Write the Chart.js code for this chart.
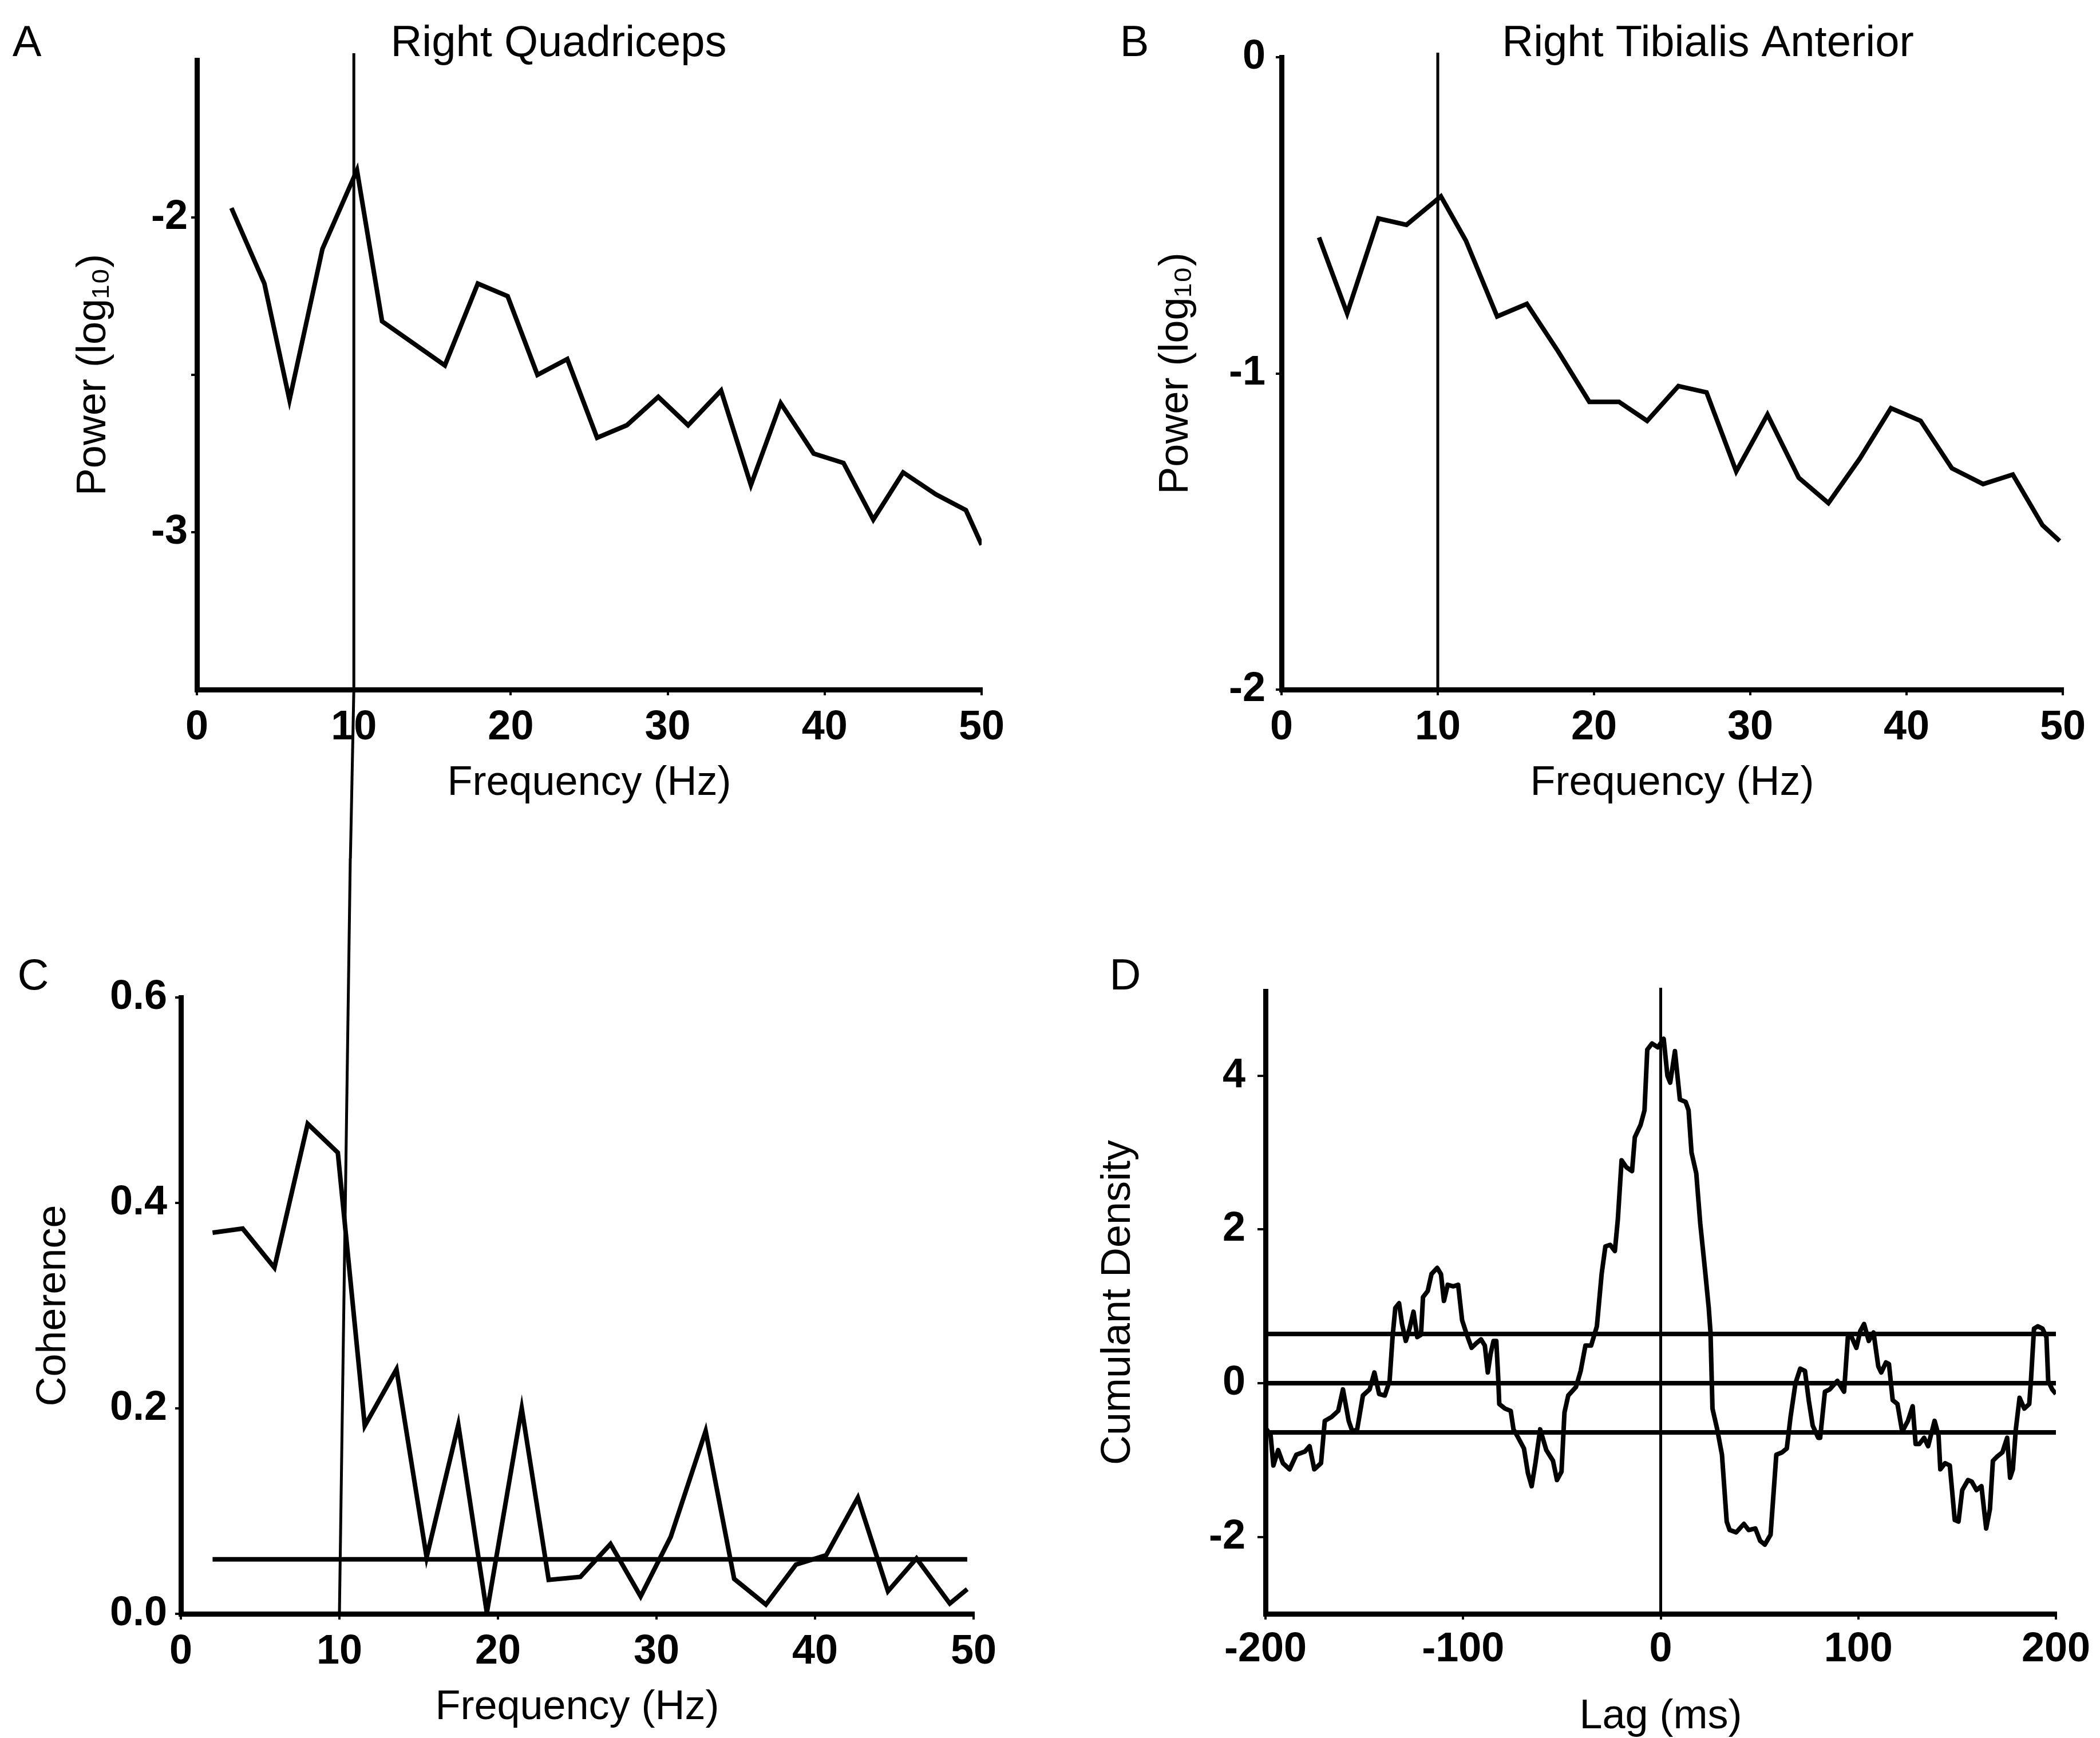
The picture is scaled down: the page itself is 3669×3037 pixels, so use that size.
<!DOCTYPE html>
<html>
<head>
<meta charset="utf-8">
<title>Power spectra, coherence and cumulant density</title>
<script src="https://cdn.jsdelivr.net/npm/chart.js@4.4.1/dist/chart.umd.min.js"></script>
<style>
  html, body { margin: 0; padding: 0; background: #fff; }
  #page { position: relative; width: 3669px; height: 3037px; background: #fff; overflow: hidden; }
  #page canvas { position: absolute; }
</style>
</head>
<body>
<div id="page">
  <canvas id="panelA" width="1834" height="1500" style="left:0;top:0"></canvas>
  <canvas id="panelB" width="1835" height="1500" style="left:1834px;top:0"></canvas>
  <canvas id="panelC" width="1834" height="1537" style="left:0;top:1500px"></canvas>
  <canvas id="panelD" width="1835" height="1537" style="left:1834px;top:1500px"></canvas>
</div>
<script>
// ---- data ----

// A: right quadriceps power spectrum
const aFreq = [2.2, 4.3, 5.9, 8.0, 10.2, 11.8, 13.8, 15.8, 17.9, 19.8, 21.7, 23.6, 25.5,
               27.4, 29.4, 31.3, 33.4, 35.3, 37.2, 39.3, 41.2, 43.1, 45.0, 47.1, 49.0, 50.0];
const aPower = [-1.97, -2.21, -2.58, -2.10, -1.85, -2.33, -2.40, -2.47, -2.21, -2.25, -2.50, -2.45, -2.70,
                -2.66, -2.57, -2.66, -2.55, -2.85, -2.59, -2.75, -2.78, -2.96, -2.81, -2.88, -2.93, -3.04];
const aYTicks = [-3, -2.5, -2];
const aYLabels = ["-3", "", "-2"];

// B: right tibialis anterior power spectrum
const bFreq = [2.4, 4.2, 6.2, 8.0, 10.2, 11.8, 13.8, 15.7, 17.7, 19.7, 21.6, 23.4, 25.4,
               27.2, 29.1, 31.1, 33.1, 35.0, 37.0, 39.0, 40.9, 42.9, 44.9, 46.8, 48.7, 49.8];
const bPower = [-0.57, -0.81, -0.51, -0.53, -0.44, -0.58, -0.82, -0.78, -0.93, -1.09, -1.09, -1.15, -1.04,
                -1.06, -1.31, -1.13, -1.33, -1.41, -1.27, -1.11, -1.15, -1.30, -1.35, -1.32, -1.48, -1.53];
const bYTicks = [-2, -1, 0];
const bYLabels = ["-2", "-1", "0"];

// C: coherence
const cFreq = [2.0, 3.9, 5.9, 8.0, 9.9, 11.6, 13.6, 15.5, 17.5, 19.3, 21.5, 23.2, 25.2,
               27.1, 29.0, 30.9, 33.1, 34.9, 36.9, 38.8, 40.7, 42.7, 44.6, 46.4, 48.5, 49.6];
const cCoh = [0.371, 0.375, 0.337, 0.477, 0.449, 0.183, 0.238, 0.055, 0.184, 0.001, 0.200, 0.033, 0.036,
              0.068, 0.017, 0.075, 0.178, 0.034, 0.009, 0.048, 0.057, 0.113, 0.022, 0.054, 0.010, 0.024];
const cLimit = 0.053;
const cLimitFreq = [2.0, 49.6];
const cYTicks = [0, 0.2, 0.4, 0.6];
const cYLabels = ["0.0", "0.2", "0.4", "0.6"];

// D: cumulant density
const dLag = [-199.4, -197.4, -196.0, -193.6, -191.2, -187.8, -184.4, -180.1, -177.7, -175.3, -171.9, -170.0,
  -166.6, -163.2, -160.8, -157.9, -156.0, -153.6, -150.7, -147.3, -144.9, -142.5, -139.6, -137.2,
  -135.7, -134.3, -132.4, -130.9, -129.0, -127.1, -125.1, -123.2, -121.3, -120.3, -117.9, -116.0,
  -113.1, -111.2, -109.7, -107.8, -104.9, -102.5, -100.5, -98.1, -95.7, -93.3, -90.9, -89.0,
  -87.5, -86.1, -84.6, -83.2, -82.2, -81.7, -78.8, -75.9, -74.5, -72.1, -69.2, -67.2,
  -65.3, -63.4, -61.0, -57.9, -54.5, -52.5, -50.2, -48.7, -46.8, -42.9, -40.5, -38.1,
  -35.2, -32.3, -29.9, -28.0, -25.6, -23.2, -21.7, -19.8, -17.4, -14.5, -13.1, -10.2,
  -8.2, -6.8, -4.4, -1.4, 1.5, 3.4, 4.8, 7.2, 9.7, 12.6, 14.1, 15.6,
  18.0, 20.0, 22.4, 24.3, 25.2, 26.2, 28.6, 31.0, 33.4, 34.9, 38.2, 42.1,
  44.5, 47.9, 50.3, 52.7, 55.6, 58.5, 61.4, 63.8, 65.7, 68.2, 70.6, 73.0,
  74.9, 76.9, 79.7, 80.7, 83.1, 85.5, 89.4, 92.8, 94.7, 96.1, 99.0, 101.0,
  102.9, 105.3, 107.7, 110.1, 111.6, 114.0, 115.5, 117.4, 119.8, 122.2, 125.1, 127.5,
  129.0, 130.9, 133.3, 135.3, 138.6, 140.6, 141.5, 143.9, 146.3, 148.8, 150.7, 152.6,
  155.5, 157.4, 159.8, 162.3, 164.7, 166.6, 168.1, 170.0, 172.9, 175.3, 176.8, 178.2,
  179.7, 181.6, 184.0, 186.5, 187.4, 188.9, 190.8, 193.2, 195.2, 196.1, 198.1, 200.0];
const dCum = [-0.60, -0.68, -1.07, -0.87, -1.04, -1.12, -0.93, -0.89, -0.82, -1.12, -1.04, -0.49,
  -0.44, -0.36, -0.08, -0.49, -0.63, -0.60, -0.16, -0.08, 0.14, -0.14, -0.16, 0.03,
  0.60, 0.98, 1.04, 0.77, 0.55, 0.71, 0.93, 0.60, 0.63, 1.12, 1.20, 1.42,
  1.50, 1.42, 1.07, 1.28, 1.26, 1.28, 0.82, 0.63, 0.46, 0.52, 0.57, 0.49,
  0.14, 0.38, 0.55, 0.55, 0.05, -0.27, -0.33, -0.36, -0.60, -0.71, -0.85, -1.17,
  -1.34, -1.04, -0.60, -0.87, -1.01, -1.26, -1.15, -0.38, -0.16, -0.05, 0.16, 0.49,
  0.49, 0.74, 1.42, 1.78, 1.80, 1.72, 2.13, 2.90, 2.81, 2.76, 3.20, 3.36,
  3.55, 4.34, 4.42, 4.37, 4.48, 4.00, 3.91, 4.32, 3.69, 3.66, 3.55, 3.00,
  2.73, 2.08, 1.48, 0.98, 0.66, -0.33, -0.60, -0.93, -1.80, -1.91, -1.94, -1.83,
  -1.91, -1.89, -2.05, -2.10, -1.97, -0.93, -0.90, -0.85, -0.44, 0.00, 0.19, 0.16,
  -0.22, -0.55, -0.71, -0.71, -0.11, -0.08, 0.03, -0.11, 0.60, 0.63, 0.46, 0.68,
  0.77, 0.55, 0.66, 0.22, 0.14, 0.27, 0.25, -0.22, -0.27, -0.63, -0.49, -0.30,
  -0.79, -0.79, -0.71, -0.82, -0.49, -0.68, -1.12, -1.04, -1.07, -1.78, -1.80, -1.39,
  -1.26, -1.28, -1.39, -1.34, -1.89, -1.64, -1.01, -0.96, -0.90, -0.71, -1.23, -1.12,
  -0.60, -0.19, -0.33, -0.27, 0.05, 0.71, 0.74, 0.71, 0.60, 0.03, -0.08, -0.14];
const dLimits = [0.64, 0, -0.64];
const dLimitLag = [-200, 200];
const dYTicks = [-2, 0, 2, 4];
const dYLabels = ["-2", "0", "2", "4"];

const freqTicks = [0, 10, 20, 30, 40, 50];
const lagTicks = [-200, -100, 0, 100, 200];
const peakFreq = 10;   // vertical reference line in A, B, C
const zeroLag = 0;     // vertical reference line in D

// ---- drawing ----
const FONT = '"Liberation Sans", Arial, sans-serif';
Chart.defaults.font.family = FONT;
Chart.defaults.color = "#000";

function toPoints(xs, ys) {
  return xs.map((x, i) => ({ x: x, y: ys[i] }));
}

// vertical marker placed through the library's x scale
const markerLine = {
  id: "markerLine",
  afterDatasetsDraw(chart, args, opts) {
    const { ctx, chartArea } = chart;
    const x = chart.scales.x.getPixelForValue(opts.value);
    ctx.save();
    ctx.strokeStyle = "#000";
    ctx.lineWidth = opts.width || 5;
    ctx.beginPath();
    if (opts.fromCanvasTop) {
      ctx.moveTo(x + (opts.leanTop || 0), 0);
    } else {
      ctx.moveTo(x, chartArea.top - (opts.above || 0));
    }
    ctx.lineTo(x, chartArea.bottom);
    if (opts.toCanvasBottom) {
      ctx.lineTo(x + (opts.leanBottom || 0), chart.height);
    }
    ctx.stroke();
    ctx.restore();
  },
};

// panel letter and panel heading
const panelText = {
  id: "panelText",
  afterDraw(chart, args, opts) {
    const ctx = chart.ctx;
    ctx.save();
    ctx.fillStyle = "#000";
    ctx.textAlign = "center";
    ctx.textBaseline = "middle";
    ctx.font = "76px " + FONT;
    ctx.fillText(opts.letter, opts.letterX, opts.letterY);
    if (opts.title) {
      ctx.fillText(opts.title, opts.titleX, opts.titleY);
    }
    ctx.restore();
  },
};

function fixedSize(size, horizontal) {
  return (scale) => {
    if (horizontal) scale.height = size;
    else scale.width = size;
    scale.paddingLeft = 0;
    scale.paddingRight = 0;
    scale.paddingTop = 0;
    scale.paddingBottom = 0;
  };
}

function setTicks(values) {
  return (scale) => {
    scale.ticks = values.map((v) => ({ value: v }));
  };
}

function makePanel(id, p) {
  return new Chart(document.getElementById(id), {
    type: "line",
    data: { datasets: p.datasets },
    plugins: [markerLine, panelText],
    options: {
      responsive: false,
      animation: false,
      events: [],
      layout: { padding: p.padding },
      elements: { point: { radius: 0 } },
      plugins: {
        legend: { display: false },
        tooltip: { enabled: false },
        markerLine: p.marker,
        panelText: p.text,
      },
      scales: {
        x: {
          type: "linear",
          min: p.xMin,
          max: p.xMax,
          afterBuildTicks: setTicks(p.xTicks),
          afterFit: fixedSize(p.xHeight, true),
          grid: { display: true, drawOnChartArea: false, drawTicks: true, tickLength: 10, color: "#000", lineWidth: 4 },
          border: { display: true, color: "#000", width: 9 },
          ticks: {
            autoSkip: false,
            maxRotation: 0,
            padding: p.xTickPad,
            font: { size: 72, weight: "bold" },
            callback: (v) => String(v),
          },
          title: {
            display: true,
            text: p.xTitle,
            font: { size: 72, lineHeight: 1.0 },
            padding: { top: 0, bottom: p.xTitlePad },
          },
        },
        y: {
          type: "linear",
          min: p.yMin,
          max: p.yMax,
          afterBuildTicks: setTicks(p.yTicks),
          afterFit: fixedSize(p.yWidth, false),
          grid: { display: true, drawOnChartArea: false, drawTicks: true, tickLength: p.yTickLen, color: "#000", lineWidth: 4 },
          border: { display: true, color: "#000", width: 9 },
          ticks: {
            autoSkip: false,
            padding: p.yTickPad,
            font: { size: 72, weight: "bold" },
            callback: (v, i) => p.yLabels[i],
          },
          title: {
            display: true,
            text: p.yTitle,
            font: { size: 72, lineHeight: 1.0 },
            padding: { top: p.yTitlePad, bottom: 0 },
          },
        },
      },
    },
  });
}

function curve(points, join) {
  return {
    data: points,
    borderColor: "#000",
    borderWidth: 8,
    borderJoinStyle: join || "miter",
    tension: 0,
    fill: false,
  };
}

makePanel("panelA", {
  datasets: [curve(toPoints(aFreq, aPower))],
  padding: { left: 0, top: 105, right: 119, bottom: 0 },
  xMin: 0, xMax: 50, xTicks: freqTicks, xHeight: 295, xTickPad: 14,
  yMin: -3.5, yMax: -1.5, yTicks: aYTicks, yLabels: aYLabels, yWidth: 344, yTickLen: 10, yTickPad: 6,
  xTitle: "Frequency (Hz)", xTitlePad: 95,
  yTitle: "Power (log\u2081\u2080)", yTitlePad: 128,
  marker: { value: peakFreq, above: 12, toCanvasBottom: true, leanBottom: -6, width: 5 },
  text: { letter: "A", letterX: 47, letterY: 77, title: "Right Quadriceps", titleX: 976, titleY: 77 },
});

makePanel("panelB", {
  datasets: [curve(toPoints(bFreq, bPower))],
  padding: { left: 0, top: 100, right: 65, bottom: 0 },
  xMin: 0, xMax: 50, xTicks: freqTicks, xHeight: 295, xTickPad: 14,
  yMin: -2, yMax: 0, yTicks: bYTicks, yLabels: bYLabels, yWidth: 405, yTickLen: 10, yTickPad: 18,
  xTitle: "Frequency (Hz)", xTitlePad: 95,
  yTitle: "Power (log\u2081\u2080)", yTitlePad: 185,
  marker: { value: peakFreq, above: 8, width: 5 },
  text: { letter: "B", letterX: 148, letterY: 77, title: "Right Tibialis Anterior", titleX: 1150, titleY: 77 },
});

makePanel("panelC", {
  datasets: [
    curve(toPoints(cFreq, cCoh)),
    curve(toPoints(cLimitFreq, [cLimit, cLimit])),
  ],
  padding: { left: 0, top: 243, right: 133, bottom: 0 },
  xMin: 0, xMax: 50, xTicks: freqTicks, xHeight: 217, xTickPad: 14,
  yMin: 0, yMax: 0.6, yTicks: cYTicks, yLabels: cYLabels, yWidth: 316, yTickLen: 10, yTickPad: 14,
  xTitle: "Frequency (Hz)", xTitlePad: 17,
  yTitle: "Coherence", yTitlePad: 58,
  marker: { value: peakFreq, fromCanvasTop: true, leanTop: 19, width: 5 },
  text: { letter: "C", letterX: 58, letterY: 208 },
});

makePanel("panelD", {
  datasets: [curve(toPoints(dLag, dCum), "round")].concat(
    dLimits.map((v) => curve(toPoints(dLimitLag, [v, v])))
  ),
  padding: { left: 0, top: 232, right: 77, bottom: 0 },
  xMin: -200, xMax: 200, xTicks: lagTicks, xHeight: 217, xTickPad: 10,
  yMin: -3, yMax: 5.1, yTicks: dYTicks, yLabels: dYLabels, yWidth: 377, yTickLen: 14, yTickPad: 21,
  xTitle: "Lag (ms)", xTitlePad: 1,
  yTitle: "Cumulant Density", yTitlePad: 84,
  marker: { value: zeroLag, above: 6, width: 5 },
  text: { letter: "D", letterX: 132, letterY: 208 },
});
</script>
</body>
</html>
